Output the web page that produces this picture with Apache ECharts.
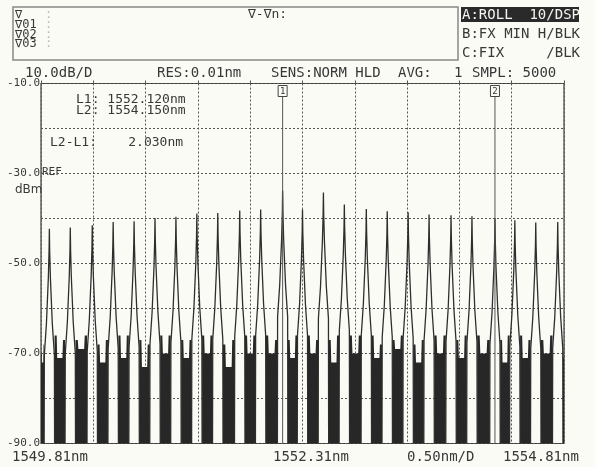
<!DOCTYPE html>
<html><head><meta charset="utf-8">
<script src="https://cdn.jsdelivr.net/npm/echarts@6/dist/echarts.min.js"></script>
<style>html,body{margin:0;padding:0;background:#fbfbf6;}#c{width:595px;height:467px;}</style>
</head><body><div id="c"></div>
<script>
// ---- axis definition ----
const X_START = 1549.81, X_END = 1554.81, X_STEP = 0.5;
const Y_MIN = -90, Y_MAX = -10, Y_STEP = 10;
const yLabelValues = [-10, -30, -50, -70, -90];
const xEdgeLabels = ['1549.81nm', '1552.31nm', '1554.81nm'];

// ---- spectrum peaks (nm, dBm) ----
const peakWavelengths = [1549.89, 1550.09, 1550.30, 1550.50, 1550.70, 1550.90, 1551.10, 1551.30, 1551.50, 1551.71,
  1551.91, 1552.12, 1552.31, 1552.51, 1552.71, 1552.92, 1553.12, 1553.32, 1553.52, 1553.73,
  1553.93, 1554.15, 1554.34, 1554.54, 1554.75];
const peakLevels = [-42.3, -42.0, -41.5, -40.8, -40.6, -39.9, -39.6, -38.9, -38.8, -38.2,
  -38.0, -33.8, -38.0, -34.2, -36.9, -37.9, -38.4, -38.6, -39.1, -39.3,
  -39.5, -39.9, -40.4, -40.9, -40.8];
// noise floor band between peaks: upper edge near left side, middle, near right side (dBm)
const noiseTopLeft = [-70, -66, -67, -68, -66, -67, -66, -67, -66, -68, -66, -66, -67,
  -66, -67, -66, -66, -67, -68, -66, -67, -66, -67, -66, -67, -68];
const noiseTopMid = [-72, -71, -69, -72, -71, -73, -70, -71, -70, -73, -70, -70, -71,
  -70, -72, -70, -71, -69, -72, -70, -71, -70, -72, -71, -70, -71];
const noiseTopRight = [-68, -67, -66, -67, -66, -68, -66, -67, -66, -67, -66, -67, -66,
  -67, -66, -66, -68, -66, -67, -66, -66, -67, -66, -67, -66, -70];
// peak skirt shape (nm from centre, dB below peak top)
const SKIRT_NM = [0, 0.003, 0.010, 0.028, 0.048];
const SKIRT_DB = [0, -5, -11, -21, -28];
const FOOT_NM = 0.05;

// ---- markers ----
const markerWavelengths = [1552.12, 1554.15];
const markerLabels = ['1', '2'];

const MONO = '"DejaVu Sans Mono", "Liberation Mono", monospace';
const INK = '#383838';

const peakData = peakWavelengths.map((w, i) => [w - X_START, peakLevels[i]]);
const noiseData = noiseTopMid.map((t, i) => {
  const a = i === 0 ? 0 : peakWavelengths[i - 1] - X_START + FOOT_NM;
  const b = i === peakWavelengths.length ? X_END - X_START : peakWavelengths[i] - X_START - FOOT_NM;
  return [a, b, noiseTopLeft[i], t, noiseTopRight[i]];
});
const markerData = markerWavelengths.map((w, i) => [w - X_START, markerLabels[i]]);

function renderPeak(params, api) {
  const x = api.value(0), top = api.value(1);
  const pts = [api.coord([x - FOOT_NM, Y_MIN])];
  for (let i = SKIRT_NM.length - 1; i >= 0; i--) pts.push(api.coord([x - SKIRT_NM[i], top + SKIRT_DB[i]]));
  for (let i = 1; i < SKIRT_NM.length; i++) pts.push(api.coord([x + SKIRT_NM[i], top + SKIRT_DB[i]]));
  pts.push(api.coord([x + FOOT_NM, Y_MIN]));
  return { type: 'polyline', shape: { points: pts }, style: { stroke: '#2e2e2e', lineWidth: 1.3, fill: null } };
}
function renderNoise(params, api) {
  const a = api.value(0), b = api.value(1);
  const w = b - a;
  const pts = [
    api.coord([a, Y_MIN]),
    api.coord([a, api.value(2)]),
    api.coord([a + w * 0.2, api.value(2)]),
    api.coord([a + w * 0.25, api.value(3)]),
    api.coord([a + w * 0.75, api.value(3)]),
    api.coord([a + w * 0.8, api.value(4)]),
    api.coord([b, api.value(4)]),
    api.coord([b, Y_MIN])
  ];
  return { type: 'polygon', shape: { points: pts }, style: { fill: '#272727' } };
}
function renderMarker(params, api) {
  const x = api.value(0);
  const pb = api.coord([x, Y_MIN]);
  const pt = api.coord([x, Y_MAX]);
  return { type: 'group', children: [
    { type: 'line', shape: { x1: pb[0], y1: pb[1], x2: pt[0], y2: pt[1] + 13 }, style: { stroke: '#555', lineWidth: 1 } },
    { type: 'rect', shape: { x: pt[0] - 4.5, y: pt[1] + 2, width: 9, height: 11 }, style: { fill: '#fbfbf6', stroke: '#444', lineWidth: 1 } },
    { type: 'text', style: { text: api.value(1), x: pt[0], y: pt[1] + 8, align: 'center', verticalAlign: 'middle', font: '9px ' + MONO, fill: '#333' } }
  ] };
}

function txt(text, x, y, size, extra) {
  return { type: 'text', x: x, y: y, style: Object.assign({ text: text, font: size + 'px ' + MONO, fill: INK, verticalAlign: 'middle' }, extra || {}) };
}

const chart = echarts.init(document.getElementById('c'), null, { renderer: 'canvas' });
chart.setOption({
  backgroundColor: '#fbfbf6',
  animation: false,
  grid: { left: 41, right: 31, top: 83.5, bottom: 23.5, show: true, borderColor: '#3a3a3a', borderWidth: 1.2, backgroundColor: 'transparent' },
  xAxis: { type: 'value', position: 'top', min: 0, max: X_END - X_START, interval: X_STEP,
    axisLine: { show: false }, axisLabel: { show: false },
    axisTick: { show: true, inside: false, length: 3, lineStyle: { color: '#555' } },
    splitLine: { show: true, lineStyle: { color: '#555', type: [2, 2], width: 1 } } },
  yAxis: { type: 'value', min: Y_MIN, max: Y_MAX, interval: Y_STEP,
    axisLine: { show: false }, axisTick: { show: false },
    axisLabel: { margin: 1, fontFamily: MONO, fontSize: 11, color: INK,
      formatter: v => yLabelValues.indexOf(v) >= 0 ? v.toFixed(1) : '' },
    splitLine: { show: true, lineStyle: { color: '#555', type: [2, 2], width: 1 } } },
  series: [
    { type: 'custom', name: 'noise', data: noiseData, renderItem: renderNoise, clip: true, silent: true },
    { type: 'custom', name: 'trace', data: peakData, renderItem: renderPeak, clip: true, silent: true },
    { type: 'custom', name: 'markers', data: markerData, renderItem: renderMarker, clip: true, silent: true }
  ],
  graphic: [
    { type: 'rect', shape: { x: 13, y: 7, width: 445, height: 53 }, style: { fill: null, stroke: '#888', lineWidth: 1.5 } },
    txt('∇', 15, 15, 12), txt('∇01', 15, 25, 12), txt('∇02', 15, 34.5, 12), txt('∇03', 15, 44, 12),
    txt(':', 45, 15, 12, { fill: '#bbb' }), txt(':', 45, 25, 12, { fill: '#bbb' }), txt(':', 45, 34.5, 12, { fill: '#bbb' }), txt(':', 45, 44, 12, { fill: '#bbb' }),
    txt('∇-∇n:', 248, 15, 13),
    { type: 'rect', shape: { x: 461, y: 7, width: 118, height: 15 }, style: { fill: '#2a2a2a' } },
    txt('A:ROLL  10/DSP', 462, 15, 14, { fill: '#f4f4f0' }),
    txt('B:FX MIN H/BLK', 462, 34, 14),
    txt('C:FIX     /BLK', 462, 53, 14),
    txt('10.0dB/D', 25, 73, 14),
    txt('RES:0.01nm', 157, 73, 14),
    txt('SENS:NORM HLD', 271, 73, 14),
    txt('AVG:', 398, 73, 14),
    txt('1', 454, 73, 14),
    txt('SMPL: 5000', 472, 73, 14),
    txt('L1: 1552.120nm', 76, 100, 13),
    txt('L2: 1554.150nm', 76, 111, 13),
    txt('L2-L1:    2.030nm', 50, 143, 13),
    txt('REF', 42, 172, 11),
    txt('dBm', 15, 190, 12, { font: '12px "DejaVu Sans", sans-serif' }),
    txt(xEdgeLabels[0], 12, 457, 14),
    txt(xEdgeLabels[1], 273, 457, 14),
    txt('0.50nm/D', 407, 457, 14),
    txt(xEdgeLabels[2], 503, 457, 14)
  ]
});
</script></body></html>
